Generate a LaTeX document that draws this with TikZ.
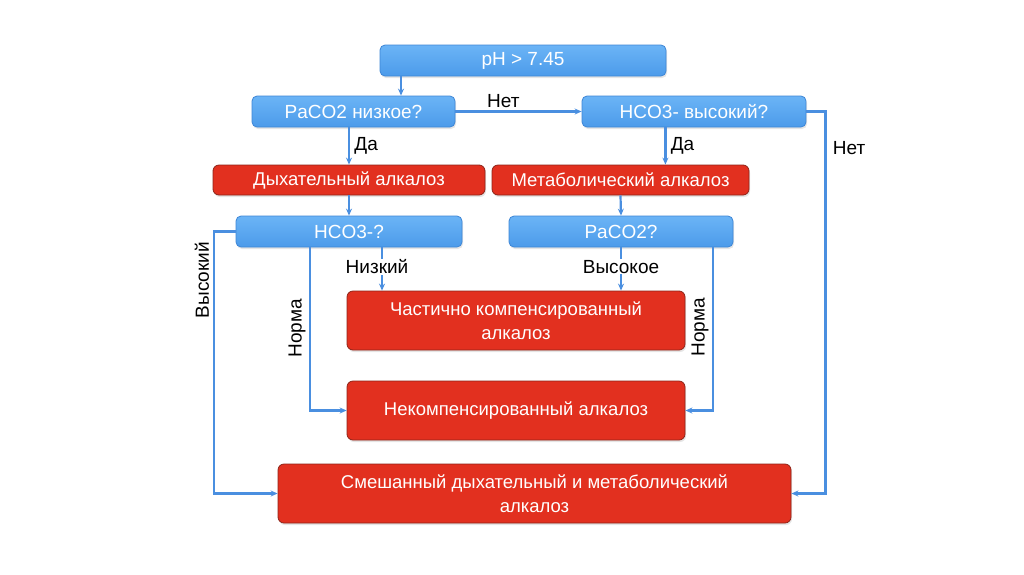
\documentclass[tikz,border=0pt]{standalone}
\usepackage{fontspec}
\setmainfont{Liberation Sans}
\usetikzlibrary{arrows.meta,shadows}

\definecolor{boxblue}{HTML}{4C9BEA}
\definecolor{boxbluetop}{HTML}{6BB4F6}
\definecolor{edgeblue}{HTML}{3E86D6}
\definecolor{linkblue}{HTML}{4A8FE0}
\definecolor{boxred}{HTML}{E2301F}
\definecolor{edgered}{HTML}{8E2418}

\tikzset{
  qbox/.style={rounded corners=5pt, draw=edgeblue, line width=0.8pt,
    top color=boxbluetop, bottom color=boxblue, text=white,
    drop shadow={opacity=0.2, shadow xshift=1pt, shadow yshift=-2pt},
    font=\fontsize{19}{21}\selectfont, inner sep=0pt},
  dbox/.style={rounded corners=6pt, draw=edgered, line width=0.8pt,
    fill=boxred, text=white, align=center,
    drop shadow={opacity=0.2, shadow xshift=1pt, shadow yshift=-2pt},
    font=\fontsize{18.5}{24}\selectfont, inner sep=0pt},
  link/.style={draw=linkblue, line width=2.2pt,
    -{Stealth[length=7pt,width=6pt]}},
  lbl/.style={font=\fontsize{19}{21}\selectfont, text=black}
}

\begin{document}
\begin{tikzpicture}[x=1pt,y=-1pt]
\useasboundingbox[fill=white] (0,0) rectangle (1024,574);

% questions
\node[qbox, minimum width=286pt, minimum height=31pt] (ph) at (523,60.5) {pH > 7.45};
\node[qbox, minimum width=203pt, minimum height=31pt] (pco) at (353.5,111.5) {PaCO2 низкое?};
\node[qbox, minimum width=224pt, minimum height=31pt] (hco) at (694,111.5) {HCO3- высокий?};
\node[qbox, minimum width=226pt, minimum height=31pt] (hcoq) at (349,231.5) {HCO3-?};
\node[qbox, minimum width=224pt, minimum height=31pt] (pcoq) at (621,231.5) {PaCO2?};

% diagnoses
\node[dbox, minimum width=272pt, minimum height=30pt] (dyh) at (349,180) {Дыхательный алкалоз};
\node[dbox, minimum width=257pt, minimum height=30pt] (met) at (620.5,180) {Метаболический алкалоз};
\node[dbox, minimum width=338pt, minimum height=59pt] (part) at (516,320.5) {Частично компенсированный\\алкалоз};
\node[dbox, minimum width=338pt, minimum height=59pt] (unc) at (516,410.5) {Некомпенсированный алкалоз};
\node[dbox, minimum width=513pt, minimum height=59pt] (mix) at (534.5,493.5) {Смешанный дыхательный и метаболический\\алкалоз};

% columns of the connectors
\coordinate (cph) at (401,0);
\coordinate (cleft) at (310,0);
\coordinate (clow) at (382,0);
\coordinate (cright) at (713,0);

% connectors
\draw[link] (ph.south -| cph) -- (pco.north -| cph);
\draw[link] (pco.east) -- node[lbl, above=-1pt, pos=0.38] {Нет} (hco.west);
\draw[link] (pco.south -| dyh) -- node[lbl, right=1pt] {Да} (dyh.north);
\draw[link] (hco.south -| met.north east) ++(-84,0) coordinate (chco) -- node[lbl, right=1pt] {Да} (met.north -| chco);
\draw[link] (hco.east) -- ++(19,0) |- node[lbl, pos=0.048, right=3pt] {Нет} (mix.east);
\draw[link] (dyh.south) -- (hcoq.north);
\draw[link] (met.south) -- (pcoq.north);
\draw[link] (hcoq.west) -- ++(-22,0) |- node[lbl, pos=0.093, rotate=90, anchor=south] {Высокий} (mix.west);
\draw[link] (hcoq.south -| clow) -- node[lbl, pos=0.45, xshift=-5pt, fill=white, inner sep=1pt] {Низкий} (part.north -| clow);
\draw[link] (hcoq.south -| cleft) |- node[lbl, pos=0.248, rotate=90, anchor=south] {Норма} (unc.west);
\draw[link] (pcoq.south) -- node[lbl, pos=0.45, fill=white, inner sep=1pt] {Высокое} (part.north -| pcoq);
\draw[link] (pcoq.south -| cright) |- node[lbl, pos=0.245, rotate=90, anchor=south] {Норма} (unc.east);
\end{tikzpicture}
\end{document}
